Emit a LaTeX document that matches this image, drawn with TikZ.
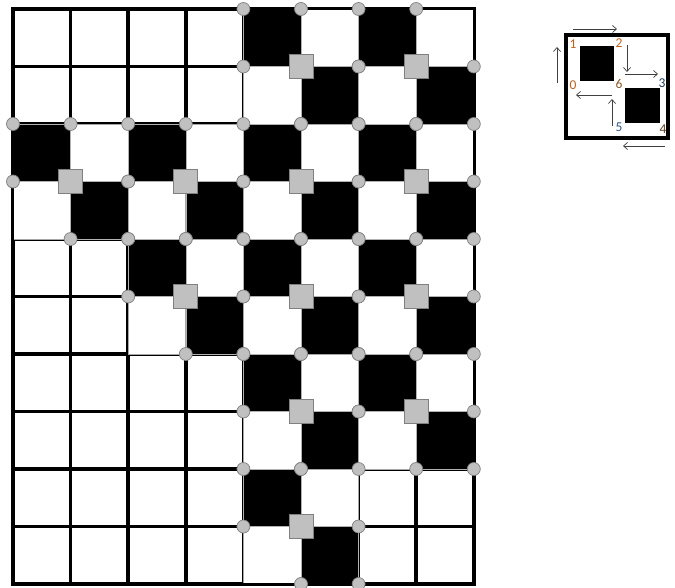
\documentclass[tikz,border=0pt]{standalone}
\usepackage{fontspec}
\setmainfont{Carlito}
\usetikzlibrary{arrows.meta}
\definecolor{markgray}{HTML}{C0C0C0}
\definecolor{markedge}{HTML}{808080}
\definecolor{labA}{HTML}{C0601A}
\definecolor{labB}{HTML}{8C5A28}
\definecolor{labC}{HTML}{1F3A60}
\definecolor{labD}{HTML}{2E5A8A}
\definecolor{labE}{HTML}{5A4020}
\begin{document}
\begin{tikzpicture}[x=1pt,y=-1pt,
  gridline/.style={line width=3.5pt,black},
  tileedge/.style={draw=gray!70,line width=0.8pt},
  dotstyle/.style={fill=markgray,draw=markedge,line width=0.7pt},
  sqstyle/.style={fill=markgray,draw=markedge,line width=0.8pt},
  arr/.style={draw=black!75,line width=0.7pt,-{Straight Barb[length=4pt,width=7pt]}},
  lab/.style={inner sep=0pt,font=\fontsize{13.5}{13.5}\selectfont}]
\useasboundingbox[fill=white] (0,0) rectangle (675,588);
% grid
\foreach \i in {0,...,8}{
  \pgfmathsetmacro\xx{13+57.6*\i}
  \draw[gridline] (\xx,9) -- (\xx,584);
}
\foreach \j in {0,...,10}{
  \pgfmathsetmacro\yy{9+57.5*\j}
  \draw[gridline] (13,\yy) -- (474,\yy);
}
\draw[gridline] (13,9) rectangle (474,584);
% tiles
\def\tiles{4/0,6/0,0/2,2/2,4/2,6/2,2/4,4/4,6/4,4/6,6/6,4/8}
\foreach \c/\r in \tiles{
  \pgfmathsetmacro\xa{13+57.6*\c}
  \pgfmathsetmacro\xb{13+57.6*(\c+1)}
  \pgfmathsetmacro\xc{13+57.6*(\c+2)}
  \pgfmathsetmacro\ya{9+57.5*\r}
  \pgfmathsetmacro\yb{9+57.5*(\r+1)}
  \pgfmathsetmacro\yc{9+57.5*(\r+2)}
  \fill[white] (\xa,\ya) rectangle (\xc,\yc);
  \draw[tileedge] (\xa,\ya) rectangle (\xc,\yc);
  \draw[tileedge] (\xb,\ya) -- (\xb,\yc) (\xa,\yb) -- (\xc,\yb);
  \filldraw[fill=black,draw=gray!60,line width=0.6pt] (\xa,\ya) rectangle (\xb,\yb);
  \filldraw[fill=black,draw=gray!60,line width=0.6pt] (\xb,\yb) rectangle (\xc,\yc);
}
% outer frame over tiles
\draw[line width=2.2pt] (13,9) rectangle (474,584);
% circles
\foreach \c/\r in \tiles{
  \pgfmathsetmacro\xa{13+57.6*\c}
  \pgfmathsetmacro\xb{13+57.6*(\c+1)}
  \pgfmathsetmacro\xc{13+57.6*(\c+2)}
  \pgfmathsetmacro\ya{9+57.5*\r}
  \pgfmathsetmacro\yb{9+57.5*(\r+1)}
  \pgfmathsetmacro\yc{9+57.5*(\r+2)}
  \filldraw[dotstyle] (\xa,\ya) circle[radius=6.5pt];
  \filldraw[dotstyle] (\xb,\ya) circle[radius=6.5pt];
  \filldraw[dotstyle] (\xa,\yb) circle[radius=6.5pt];
  \filldraw[dotstyle] (\xc,\yb) circle[radius=6.5pt];
  \filldraw[dotstyle] (\xb,\yc) circle[radius=6.5pt];
  \filldraw[dotstyle] (\xc,\yc) circle[radius=6.5pt];
}
% squares at tile centres
\foreach \c/\r in \tiles{
  \pgfmathsetmacro\xb{13+57.6*(\c+1)}
  \pgfmathsetmacro\yb{9+57.5*(\r+1)}
  \filldraw[sqstyle] (\xb-12,\yb-12) rectangle (\xb+12,\yb+12);
}
% inset
\draw[line width=4pt] (566,35) rectangle (668,138);
\fill[black] (580,46) rectangle (614,81);
\fill[black] (625,88) rectangle (660,123);
\coordinate (a1s) at (573,29); \coordinate (a1e) at (617,29);
\coordinate (a2s) at (557,83); \coordinate (a2e) at (557,47);
\coordinate (a3s) at (627,45); \coordinate (a3e) at (627,72);
\coordinate (a4s) at (625,74); \coordinate (a4e) at (658,74);
\coordinate (a5s) at (612,95); \coordinate (a5e) at (576,95);
\coordinate (a6s) at (612,126); \coordinate (a6e) at (612,99);
\coordinate (a7s) at (665,146); \coordinate (a7e) at (623,146);
\draw[arr] (a1s) -- (a1e);
\draw[arr] (a2s) -- (a2e);
\draw[arr] (a3s) -- (a3e);
\draw[arr] (a4s) -- (a4e);
\draw[arr] (a5s) -- (a5e);
\draw[arr] (a6s) -- (a6e);
\draw[arr] (a7s) -- (a7e);
\node[lab,text=labA] (l1) at (573,44) {1};
\node[lab,text=labA] (l2) at (619,43) {2};
\node[lab,text=labA] (l0) at (573,85) {0};
\node[lab,text=labB] (l6) at (619,84) {6};
\node[lab,text=labC] (l3) at (662,83) {3};
\node[lab,text=labD] (l5) at (619,127) {5};
\node[lab,text=labE] (l4) at (663,129) {4};
\end{tikzpicture}
\end{document}
